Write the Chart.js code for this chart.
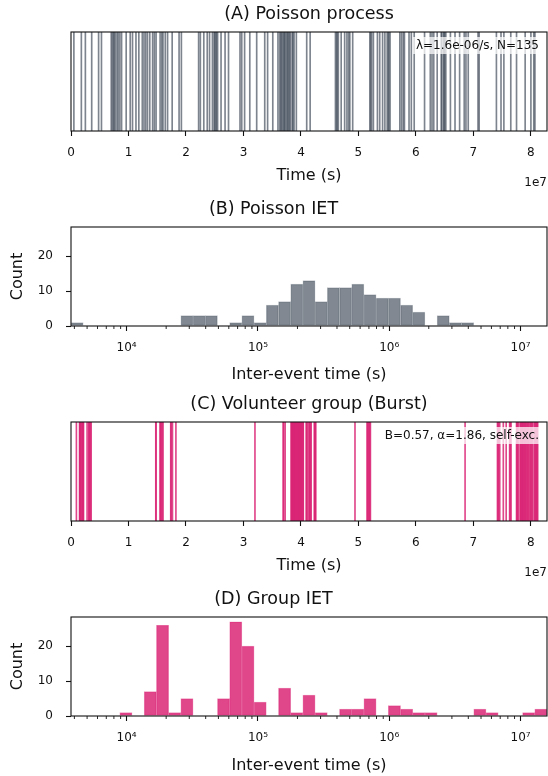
<!DOCTYPE html>
<html><head><meta charset="utf-8">
<script src="https://cdn.jsdelivr.net/npm/chart.js@4.4.1/dist/chart.umd.min.js"></script>
<style>
html,body{margin:0;padding:0;background:#fff;}
#wrap{position:relative;width:548px;height:776px;overflow:hidden;}
.pane{position:absolute;left:0;width:548px;}
canvas{display:block;}
</style></head><body>
<div id="wrap">
<div class="pane" style="top:0px;height:195px"><canvas id="cA" width="548" height="195"></canvas></div>
<div class="pane" style="top:195px;height:195px"><canvas id="cB" width="548" height="195"></canvas></div>
<div class="pane" style="top:390px;height:195px"><canvas id="cC" width="548" height="195"></canvas></div>
<div class="pane" style="top:585px;height:191px"><canvas id="cD" width="548" height="191"></canvas></div>
</div>
<script>
// ---------------- DATA ----------------
// (A) Poisson process event times (s)
const poissonTimes = [
 0.05e7,0.18e7,0.25e7,0.36e7,0.48e7,0.53e7,0.70e7,0.72e7,0.74e7,0.75e7,0.77e7,0.80e7,0.82e7,0.85e7,0.88e7,0.96e7,
 1.03e7,1.07e7,1.13e7,1.18e7,1.24e7,1.27e7,1.30e7,1.33e7,1.37e7,1.42e7,1.45e7,1.48e7,1.55e7,1.58e7,1.60e7,1.64e7,1.68e7,1.76e7,1.88e7,1.92e7,
 2.22e7,2.25e7,2.31e7,2.37e7,2.41e7,2.46e7,2.49e7,2.50e7,2.52e7,2.53e7,2.55e7,2.61e7,2.68e7,2.74e7,2.94e7,2.97e7,
 3.02e7,3.11e7,3.23e7,3.37e7,3.42e7,3.51e7,3.60e7,3.63e7,3.65e7,3.66e7,3.68e7,3.70e7,3.71e7,3.72e7,3.74e7,3.76e7,3.77e7,3.79e7,3.80e7,3.82e7,3.85e7,3.86e7,3.88e7,3.92e7,4.10e7,4.16e7,
 4.60e7,4.62e7,4.63e7,4.65e7,4.70e7,4.76e7,4.80e7,4.83e7,4.85e7,4.90e7,
 5.20e7,5.21e7,5.23e7,5.26e7,5.33e7,5.37e7,5.42e7,5.46e7,5.50e7,5.52e7,5.53e7,5.55e7,5.72e7,5.75e7,5.78e7,5.80e7,5.88e7,5.92e7,5.97e7,
 6.15e7,6.25e7,6.28e7,6.31e7,6.37e7,6.44e7,6.45e7,6.48e7,6.49e7,6.50e7,6.52e7,6.60e7,6.68e7,6.76e7,6.84e7,6.87e7,6.91e7,
 7.08e7,7.10e7,7.40e7,7.48e7,7.53e7,7.65e7,7.75e7,7.90e7,8.00e7,8.05e7,8.07e7
];
// (C) Volunteer group event times (s)
const groupTimes = [
 0.094e7,0.150e7,0.152e7,0.157e7,0.160e7,0.166e7,0.171e7,0.190e7,0.198e7,0.205e7,0.212e7,0.218e7,0.280e7,0.310e7,0.316e7,0.325e7,0.340e7,0.350e7,
 1.475e7,1.480e7,1.550e7,1.556e7,1.562e7,1.570e7,1.590e7,1.600e7,1.735e7,1.742e7,1.765e7,1.825e7,
 3.200e7,
 3.690e7,3.700e7,3.725e7,
 3.830e7,3.834e7,3.841e7,3.846e7,3.853e7,3.857e7,3.866e7,3.871e7,3.875e7,3.882e7,
 3.886e7,3.893e7,3.899e7,3.902e7,3.910e7,3.916e7,3.921e7,3.925e7,3.933e7,3.938e7,
 3.945e7,3.951e7,3.954e7,3.961e7,3.967e7,3.972e7,3.979e7,3.983e7,3.991e7,3.996e7,
 4.001e7,4.006e7,4.011e7,4.016e7,4.021e7,4.024e7,4.029e7,4.033e7,4.037e7,4.041e7,
 4.092e7,4.098e7,4.110e7,4.140e7,4.146e7,4.152e7,4.165e7,4.178e7,4.232e7,4.240e7,4.248e7,4.258e7,
 4.940e7,
 5.150e7,5.160e7,5.172e7,5.185e7,5.196e7,5.208e7,
 6.855e7,
 7.418e7,7.428e7,7.440e7,7.458e7,7.520e7,7.570e7,7.630e7,7.640e7,7.655e7,7.750e7,7.758e7,7.768e7,7.780e7,
 7.812e7,7.820e7,7.828e7,7.836e7,7.845e7,7.853e7,7.862e7,7.870e7,7.880e7,7.890e7,7.900e7,7.912e7,7.925e7,7.938e7,7.950e7,
 7.960e7,7.982e7,7.995e7,8.005e7,8.020e7,8.035e7,8.062e7,8.070e7,8.080e7,8.090e7,8.100e7,8.110e7,8.118e7
];
// IET histogram: 39 log-spaced bins between these edges (s)
const ietBinMin = 3770;
const ietBinMax = 1.59e7;
const ietBinCount = 39;
// (B) Poisson IET counts per bin
const poissonIETCounts = [1,0,0,0,0,0,0,0,0,3,3,3,0,1,3,1,6,7,12,13,7,11,11,12,9,8,8,6,4,0,3,1,1,0,0,0,0,0,0];
// (D) Group IET counts per bin
const groupIETCounts   = [0,0,0,0,1,0,7,26,1,5,0,0,5,27,20,4,0,8,1,6,1,0,2,2,5,0,3,2,1,1,0,0,0,2,1,0,0,1,2];
// axes
const timeMax = 8.28e7;
const timeTicks = [0,1e7,2e7,3e7,4e7,5e7,6e7,7e7,8e7];
const timeTickLabels = ['0','1','2','3','4','5','6','7','8'];
const logMajorTicks = [1e4,1e5,1e6,1e7];
const logMajorLabels = ['10\u2074','10\u2075','10\u2076','10\u2077'];
const logMinorTicks = [4e3,5e3,6e3,7e3,8e3,9e3,2e4,3e4,4e4,5e4,6e4,7e4,8e4,9e4,2e5,3e5,4e5,5e5,6e5,7e5,8e5,9e5,2e6,3e6,4e6,5e6,6e6,7e6,8e6,9e6];
const countMax = 28.35;
const countTicks = [0,10,20];

// ---------------- STYLE / HELPERS ----------------
const FONT = "'DejaVu Sans', 'Liberation Sans', sans-serif";
const INK = '#111';
const gray = 'rgba(75,85,99,0.72)';
const pink = 'rgba(219,39,119,0.85)';

// bin geometric centres derived from the bin range
const lo = Math.log10(ietBinMin), hi = Math.log10(ietBinMax);
const binCenters = [];
for (let i = 0; i < ietBinCount; i++) binCenters.push(Math.pow(10, lo + (i + 0.5) * (hi - lo) / ietBinCount));

const decor = {
  id: 'decor',
  afterDatasetsDraw(chart, args, o) {
    const ctx = chart.ctx, a = chart.chartArea;
    ctx.save();
    if (o.minorTicks) {
      const sx = chart.scales.x;
      ctx.strokeStyle = INK; ctx.lineWidth = 0.9;
      ctx.beginPath();
      for (const v of o.minorTicks) {
        const px = sx.getPixelForValue(v);
        if (px < a.left - 0.5 || px > a.right + 0.5) continue;
        ctx.moveTo(px, a.bottom); ctx.lineTo(px, a.bottom + 3);
      }
      ctx.stroke();
    }
    // full frame (spines)
    ctx.strokeStyle = INK; ctx.lineWidth = 1.1;
    ctx.strokeRect(a.left, a.top, a.right - a.left, a.bottom - a.top);
    if (o.note) {
      ctx.font = '12px ' + FONT;
      const w = ctx.measureText(o.note).width;
      const xr = a.right - 8, yc = a.top + 13.5;
      ctx.fillStyle = 'rgba(255,255,255,0.72)';
      ctx.fillRect(xr - w - 3, yc - 8.5, w + 6, 17);
      ctx.fillStyle = INK; ctx.textAlign = 'right'; ctx.textBaseline = 'middle';
      ctx.fillText(o.note, xr, yc);
    }
    if (o.offsetText) {
      ctx.font = '12px ' + FONT;
      ctx.fillStyle = INK; ctx.textAlign = 'right'; ctx.textBaseline = 'middle';
      ctx.fillText(o.offsetText, a.right, a.bottom + 52);
    }
    ctx.restore();
  }
};

function titleOpts(text) {
  return { display: true, text, color: INK, font: { family: FONT, size: 17.5, weight: 'normal' },
           padding: { top: 3.5, bottom: 7.5 } };
}
function xTicksCommon() {
  return { color: INK, font: { family: FONT, size: 12 }, padding: 9.5, maxRotation: 0, autoSkip: false };
}
function xGrid() {
  return { drawOnChartArea: false, drawTicks: true, tickLength: 5, tickColor: INK, tickWidth: 1.1, offset: false };
}

function rasterChart(id, times, color, title, note) {
  return new Chart(document.getElementById(id), {
    type: 'bar',
    data: { datasets: [{ data: times.map(t => ({ x: t, y: 1 })), backgroundColor: color, borderWidth: 0, barThickness: 1 }] },
    options: {
      responsive: false, animation: false, events: [],
      layout: { padding: { left: 71, right: 1, top: 0, bottom: 0 } },
      plugins: { legend: { display: false }, tooltip: { enabled: false }, title: titleOpts(title),
                 decor: { note, offsetText: '1e7' } },
      scales: {
        x: { type: 'linear', min: 0, max: timeMax, offset: false,
             afterBuildTicks: s => { s.ticks = timeTicks.map(v => ({ value: v })); },
             afterFit: s => { s.height = 64; },
             ticks: Object.assign(xTicksCommon(), { callback: (v) => timeTickLabels[timeTicks.indexOf(v)] }),
             grid: xGrid(), border: { display: false },
             title: { display: true, text: 'Time (s)', color: INK, font: { family: FONT, size: 16 }, padding: { top: 0, bottom: 9.9 } } },
        y: { display: false, min: 0, max: 1 }
      }
    },
    plugins: [decor]
  });
}

function histChart(id, counts, fill, edge, title, canvasH, xTitlePad) {
  return new Chart(document.getElementById(id), {
    type: 'bar',
    data: { datasets: [{ data: binCenters.map((c, i) => ({ x: c, y: counts[i] })), backgroundColor: fill,
                         borderColor: edge, borderWidth: 0.7, borderSkipped: false,
                         categoryPercentage: 1, barPercentage: 1 }] },
    options: {
      responsive: false, animation: false, events: [],
      layout: { padding: { left: 0, right: 1, top: 0, bottom: 0 } },
      plugins: { legend: { display: false }, tooltip: { enabled: false }, title: titleOpts(title),
                 decor: { minorTicks: logMinorTicks } },
      scales: {
        x: { type: 'logarithmic', min: ietBinMin, max: ietBinMax, offset: false,
             afterBuildTicks: s => { s.ticks = logMajorTicks.map(v => ({ value: v })); },
             afterFit: s => { s.height = canvasH - 131; },
             ticks: Object.assign(xTicksCommon(), { callback: (v) => logMajorLabels[logMajorTicks.indexOf(v)] }),
             grid: xGrid(), border: { display: false },
             title: { display: true, text: 'Inter-event time (s)', color: INK, font: { family: FONT, size: 16 }, padding: { top: 0, bottom: xTitlePad } } },
        y: { type: 'linear', min: 0, max: countMax,
             afterBuildTicks: s => { s.ticks = countTicks.map(v => ({ value: v })); },
             afterFit: s => { s.width = 71; },
             ticks: { color: INK, font: { family: FONT, size: 12 }, padding: 13 },
             grid: { drawOnChartArea: false, drawTicks: true, tickLength: 5, tickColor: INK, tickWidth: 1.1 },
             border: { display: false },
             title: { display: true, text: 'Count', color: INK, font: { family: FONT, size: 16 }, padding: { top: 8.4, bottom: 0 } } }
      }
    },
    plugins: [decor]
  });
}

rasterChart('cA', poissonTimes, gray, '(A) Poisson process', '\u03bb=1.6e-06/s, N=135');
histChart('cB', poissonIETCounts, 'rgba(75,85,99,0.7)', 'rgba(75,85,99,0.35)', '(B) Poisson IET', 195, 5.4);
rasterChart('cC', groupTimes, pink, '(C) Volunteer group (Burst)', 'B=0.57, \u03b1=1.86, self-exc.');
histChart('cD', groupIETCounts, 'rgba(219,39,119,0.85)', 'rgba(219,39,119,0.5)', '(D) Group IET', 191, 0.4);
</script>
</body></html>
